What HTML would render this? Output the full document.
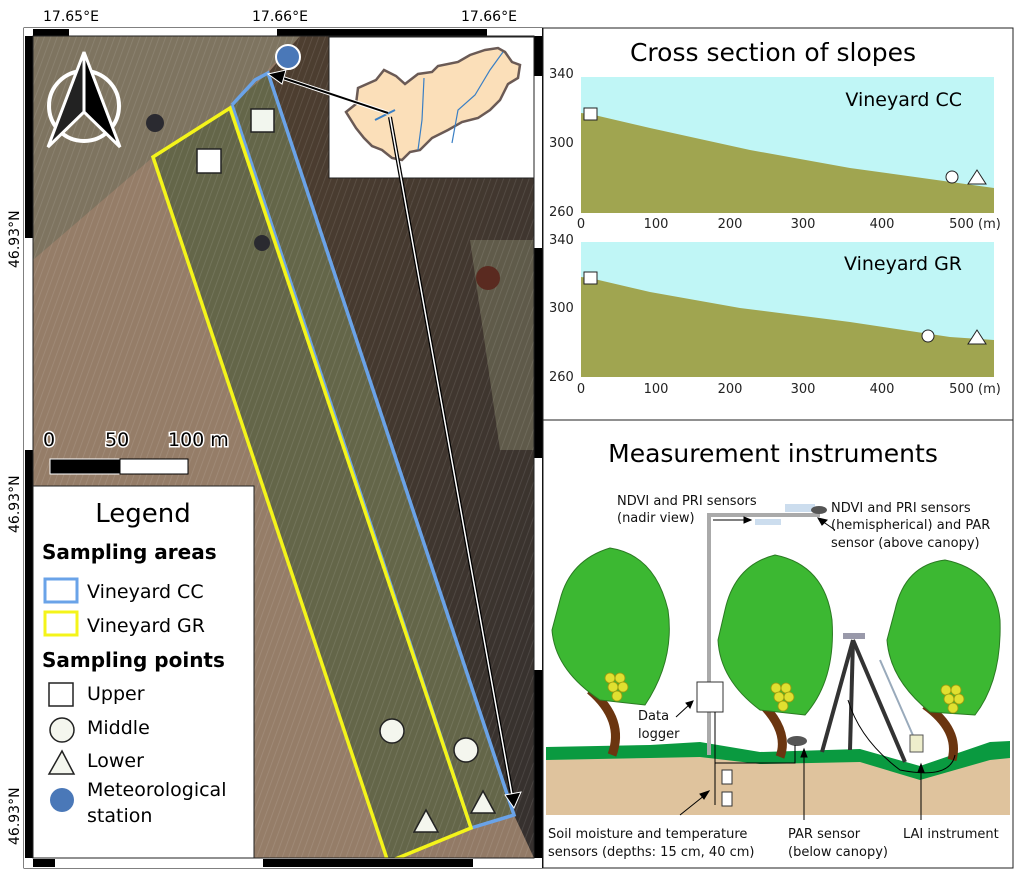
<!DOCTYPE html>
<html><head><meta charset="utf-8"><style>
body{margin:0;background:#fff;}
svg text{font-family:"DejaVu Sans","Liberation Sans",sans-serif;}
</style></head><body>
<svg width="1018" height="877" viewBox="0 0 1018 877" xmlns="http://www.w3.org/2000/svg">
<defs>
<pattern id="rows" width="6" height="6" patternUnits="userSpaceOnUse" patternTransform="rotate(20)">
<rect width="6" height="6" fill="none"/><line x1="0" y1="0" x2="0" y2="6" stroke="#ffffff" stroke-opacity="0.12" stroke-width="1.5"/></pattern>
<linearGradient id="forest" x1="0" y1="0" x2="1" y2="1"><stop offset="0" stop-color="#4f3f30"/><stop offset="1" stop-color="#35302e"/></linearGradient>
</defs>
<rect x="33" y="36" width="501" height="822" fill="#927a66"/>
<polygon points="33,36 300,36 230,110 33,260" fill="#7e7460"/>
<polygon points="33,260 153,157 388,862 33,858" fill="#957d68"/>
<polygon points="300,36 534,36 534,858 514,815 268,73" fill="url(#forest)"/>
<polygon points="470,240 534,240 534,450 500,450" fill="#6d6b55" opacity="0.7"/>
<polygon points="153,157 232,105 268,73 514,815 471,828 388,862" fill="#646649"/>
<rect x="33" y="36" width="501" height="822" fill="url(#rows)"/>
<circle cx="488" cy="278" r="12" fill="#5a2a20"/>
<circle cx="155" cy="123" r="9" fill="#2a2a30"/>
<circle cx="262" cy="243" r="8" fill="#2a2a30"/>
<polyline points="232,105 255,80 268,73 514,815 471,828 232,105" fill="none" stroke="#6aa3e8" stroke-width="3.5"/>
<polygon points="153,157 230,108 471,828 388,862" fill="none" stroke="#f4f41a" stroke-width="3.5"/>
<rect x="24" y="28" width="518" height="840" fill="none" stroke="#000" stroke-width="1"/>
<rect x="24" y="28" width="9" height="840" fill="#fff"/>
<rect x="534" y="28" width="8" height="840" fill="#fff"/>
<rect x="24" y="28" width="518" height="8" fill="#fff"/>
<rect x="24" y="858" width="518" height="10" fill="#fff"/>
<rect x="33" y="29" width="36" height="7" fill="#000"/>
<rect x="277" y="29" width="210" height="7" fill="#000"/>
<rect x="33" y="859" width="22" height="8" fill="#000"/>
<rect x="263" y="859" width="210" height="8" fill="#000"/>
<rect x="25" y="36" width="8" height="202" fill="#000"/>
<rect x="25" y="450" width="8" height="408" fill="#000"/>
<rect x="534" y="36" width="8" height="40" fill="#000"/>
<rect x="534" y="248" width="8" height="210" fill="#000"/>
<rect x="534" y="670" width="8" height="188" fill="#000"/>
<rect x="33" y="36" width="501" height="822" fill="none" stroke="#222" stroke-width="1"/>
<text x="43" y="21" font-size="14">17.65°E</text>
<text x="252" y="21" font-size="14">17.66°E</text>
<text x="461" y="21" font-size="14">17.66°E</text>
<text transform="translate(19,268) rotate(-90)" font-size="14">46.93°N</text>
<text transform="translate(19,533) rotate(-90)" font-size="14">46.93°N</text>
<text transform="translate(19,845) rotate(-90)" font-size="14">46.93°N</text>
<circle cx="84" cy="106" r="35" fill="none" stroke="#fff" stroke-width="4"/>
<polygon points="84,52 48,147 84,112" fill="#222" stroke="#fff" stroke-width="3"/>
<polygon points="84,52 120,147 84,112" fill="#000" stroke="#fff" stroke-width="3"/>
<rect x="329" y="37" width="205" height="141" fill="#fff" stroke="#222"/>
<path d="M346,112 L356,104 L358,88 L376,80 L384,70 L396,76 L405,84 L418,74 L432,72 L438,66 L458,62 L470,55 L485,50 L498,48 L505,52 L512,62 L520,65 L518,78 L508,84 L500,100 L490,110 L478,118 L462,122 L448,130 L432,138 L420,150 L410,152 L402,160 L392,158 L382,150 L372,146 L364,138 L356,128 Z" fill="#fbdfb9" stroke="#6a5a55" stroke-width="2.5"/>
<path d="M424,78 L422,120 L418,150 M503,52 L490,70 L475,95 L458,110 L452,143" fill="none" stroke="#3a7fc4" stroke-width="1.2"/>
<path d="M375,120 L395,110" stroke="#3a7fc4" stroke-width="2"/>
<line x1="388" y1="113" x2="280" y2="77" stroke="#fff" stroke-width="4"/>
<line x1="388" y1="113" x2="280" y2="77" stroke="#000" stroke-width="2"/>
<polygon points="268,74 286,70 282,84" fill="#000" stroke="#fff" stroke-width="1"/>
<line x1="390" y1="117" x2="512" y2="795" stroke="#000" stroke-width="4"/>
<line x1="390" y1="117" x2="512" y2="795" stroke="#fff" stroke-width="1.5"/>
<polygon points="505,795 521,792 514,808" fill="#000" stroke="#fff" stroke-width="1"/>
<circle cx="288" cy="57" r="12" fill="#4a78b8" stroke="#fff" stroke-width="2"/>
<rect x="251" y="109" width="23" height="23" fill="#f2f6ee" stroke="#222" stroke-width="1.5"/>
<rect x="197" y="149" width="24" height="24" fill="#fff" stroke="#222" stroke-width="1.5"/>
<circle cx="392" cy="731" r="12" fill="#f4f6ee" stroke="#222" stroke-width="1.5"/>
<circle cx="466" cy="750" r="12" fill="#f4f6ee" stroke="#222" stroke-width="1.5"/>
<polygon points="426,810 414,832 438,832" fill="#f4f6ee" stroke="#222" stroke-width="1.5"/>
<polygon points="483,791 471,813 495,813" fill="#f4f6ee" stroke="#222" stroke-width="1.5"/>
<g font-size="19" fill="#000" stroke="#fff" stroke-width="3" paint-order="stroke">
<text x="43" y="446">0</text><text x="105" y="446">50</text><text x="168" y="446">100 m</text></g>
<rect x="50" y="459" width="70" height="15" fill="#000" stroke="#fff"/>
<rect x="120" y="459" width="68" height="15" fill="#fff" stroke="#000"/>
<rect x="33" y="486" width="221" height="372" fill="#fff" stroke="#222"/>
<text x="143" y="522" font-size="26" text-anchor="middle">Legend</text>
<text x="42" y="559" font-size="20" font-weight="bold">Sampling areas</text>
<rect x="45" y="579" width="32" height="23" fill="none" stroke="#6aa3e8" stroke-width="3"/>
<text x="87" y="598" font-size="19">Vineyard CC</text>
<rect x="45" y="612" width="32" height="23" fill="none" stroke="#f4f41a" stroke-width="3"/>
<text x="87" y="632" font-size="19">Vineyard GR</text>
<text x="42" y="667" font-size="20" font-weight="bold">Sampling points</text>
<rect x="49" y="683" width="24" height="23" fill="#fff" stroke="#222" stroke-width="1.5"/>
<text x="87" y="700" font-size="19">Upper</text>
<circle cx="62" cy="730" r="12" fill="#f4f6ee" stroke="#222" stroke-width="1.5"/>
<text x="87" y="734" font-size="19">Middle</text>
<polygon points="62,751 49,774 74,774" fill="#f4f6ee" stroke="#222" stroke-width="1.5"/>
<text x="87" y="767" font-size="19">Lower</text>
<circle cx="62" cy="800" r="12" fill="#4a78b8"/>
<text x="87" y="796" font-size="19">Meteorological</text>
<text x="87" y="822" font-size="19">station</text>
<rect x="543" y="28" width="470" height="392" fill="#fff" stroke="#222"/>
<text x="773" y="61" font-size="25" text-anchor="middle">Cross section of slopes</text>
<rect x="581" y="77" width="413" height="136" fill="#c0f6f6"/>
<polygon points="581,113 590,114 650,128 750,150 850,168 994,188 994,213 581,213" fill="#a0a550"/>
<rect x="584" y="108" width="13" height="12" fill="#fff" stroke="#222"/>
<circle cx="952" cy="177" r="6" fill="#fff" stroke="#222"/>
<polygon points="977,170 968,184 986,184" fill="#fff" stroke="#222"/>
<text x="962" y="106" font-size="19" text-anchor="end">Vineyard CC</text>
<g font-size="13" fill="#222">
<text x="549" y="78">340</text><text x="549" y="147">300</text><text x="549" y="216">260</text>
<text x="581" y="228" text-anchor="middle">0</text><text x="656" y="228" text-anchor="middle">100</text><text x="730" y="228" text-anchor="middle">200</text><text x="803" y="228" text-anchor="middle">300</text><text x="882" y="228" text-anchor="middle">400</text><text x="975" y="228" text-anchor="middle">500 (m)</text>
<text x="549" y="244">340</text><text x="549" y="312">300</text><text x="549" y="381">260</text>
<text x="581" y="393" text-anchor="middle">0</text><text x="656" y="393" text-anchor="middle">100</text><text x="730" y="393" text-anchor="middle">200</text><text x="803" y="393" text-anchor="middle">300</text><text x="882" y="393" text-anchor="middle">400</text><text x="975" y="393" text-anchor="middle">500 (m)</text>
</g>
<rect x="581" y="242" width="413" height="135" fill="#c0f6f6"/>
<polygon points="581,277 590,278 650,292 740,308 850,322 950,337 994,340 994,377 581,377" fill="#a0a550"/>
<rect x="584" y="272" width="13" height="12" fill="#fff" stroke="#222"/>
<circle cx="928" cy="336" r="6" fill="#fff" stroke="#222"/>
<polygon points="977,330 968,344 986,344" fill="#fff" stroke="#222"/>
<text x="962" y="270" font-size="19" text-anchor="end">Vineyard GR</text>
<rect x="543" y="420" width="470" height="448" fill="#fff" stroke="#222"/>
<text x="773" y="462" font-size="25" text-anchor="middle">Measurement instruments</text>
<polygon points="546,750 650,748 700,745 760,755 860,752 920,773 990,748 1010,746 1010,815 546,815" fill="#dfc39d"/>
<polygon points="546,747 650,745 700,742 760,752 860,749 920,766 990,742 1010,741 1010,758 990,760 920,780 860,762 760,764 700,757 650,758 546,760" fill="#0a9a40"/>
<g stroke="#6b3510" stroke-width="9" fill="none">
<path d="M590,690 Q625,720 612,755"/>
<path d="M758,700 Q790,730 780,757"/>
<path d="M925,705 Q960,730 952,760"/>
</g>
<g fill="#3cb832" stroke="#2a7a22" stroke-width="1">
<path d="M560,600 Q570,560 610,548 Q655,555 668,610 Q675,660 645,705 L600,700 Q555,670 552,630 Z"/>
<path d="M725,610 Q735,565 775,555 Q825,565 832,620 Q836,680 805,715 L760,710 Q720,680 718,640 Z"/>
<path d="M895,610 Q905,565 945,560 Q995,570 1000,620 Q1002,680 975,715 L930,712 Q890,680 887,640 Z"/>
</g>
<g fill="#e0e030" stroke="#9a9a10" stroke-width="0.8">
<circle cx="610" cy="678" r="5"/><circle cx="620" cy="678" r="5"/><circle cx="613" cy="687" r="5"/><circle cx="623" cy="687" r="5"/><circle cx="617" cy="696" r="5"/>
<circle cx="776" cy="688" r="5"/><circle cx="786" cy="688" r="5"/><circle cx="779" cy="697" r="5"/><circle cx="789" cy="697" r="5"/><circle cx="783" cy="706" r="5"/>
<circle cx="946" cy="690" r="5"/><circle cx="956" cy="690" r="5"/><circle cx="949" cy="699" r="5"/><circle cx="959" cy="699" r="5"/><circle cx="953" cy="708" r="5"/>
</g>
<path d="M709,755 L709,515 L820,515" fill="none" stroke="#aaa" stroke-width="4"/>
<rect x="697" y="682" width="26" height="30" fill="#fff" stroke="#333"/>
<line x1="715" y1="712" x2="715" y2="805" stroke="#000"/>
<rect x="722" y="770" width="10" height="14" fill="#fff" stroke="#333"/>
<rect x="722" y="792" width="10" height="14" fill="#fff" stroke="#333"/>
<rect x="755" y="519" width="26" height="6" fill="#cde"/>
<rect x="785" y="504" width="30" height="8" fill="#cde"/>
<ellipse cx="819" cy="510" rx="8" ry="4" fill="#555"/>
<ellipse cx="797" cy="741" rx="10" ry="5" fill="#555"/>
<path d="M715,763 L795,763 L795,745" fill="none" stroke="#000"/>
<g stroke="#333" stroke-width="4"><line x1="853" y1="640" x2="822" y2="752"/><line x1="853" y1="640" x2="850" y2="750"/><line x1="853" y1="640" x2="905" y2="762"/></g>
<rect x="843" y="633" width="22" height="6" fill="#99a"/>
<line x1="880" y1="660" x2="915" y2="740" stroke="#9ab" stroke-width="2"/>
<rect x="910" y="735" width="13" height="17" fill="#eec" stroke="#555"/>
<path d="M848,700 Q860,740 900,770 Q950,780 955,755" fill="none" stroke="#000"/>
<g stroke="#000" fill="#000">
<line x1="713" y1="520" x2="745" y2="520"/><polygon points="751,520 744,517 744,523"/>
<line x1="835" y1="530" x2="822" y2="521"/><polygon points="818,518 827,520 822,525"/>
<line x1="676" y1="717" x2="689" y2="705"/><polygon points="693,701 686,703 690,708"/>
<line x1="680" y1="815" x2="705" y2="795"/><polygon points="709,791 700,794 704,799"/>
<line x1="804" y1="820" x2="804" y2="755"/><polygon points="804,749 801,757 807,757"/>
<line x1="921" y1="820" x2="921" y2="770"/><polygon points="921,764 918,772 924,772"/>
</g>
<g font-size="13" fill="#111">
<text x="617" y="505">NDVI and PRI sensors</text><text x="617" y="522">(nadir view)</text>
<text x="831" y="512">NDVI and PRI sensors</text><text x="831" y="529">(hemispherical) and PAR</text><text x="831" y="547">sensor (above canopy)</text>
<text x="638" y="720">Data</text><text x="638" y="738">logger</text>
<text x="548" y="838">Soil moisture and temperature</text><text x="548" y="856">sensors (depths: 15 cm, 40 cm)</text>
<text x="788" y="838">PAR sensor</text><text x="788" y="856">(below canopy)</text>
<text x="903" y="838">LAI instrument</text>
</g>
</svg>
</body></html>
